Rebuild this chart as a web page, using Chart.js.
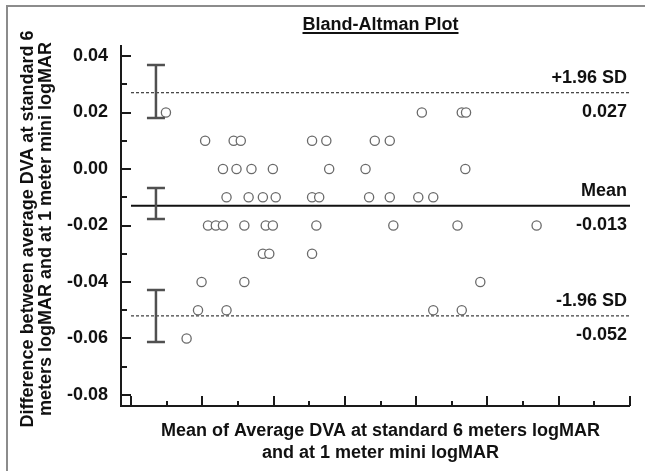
<!DOCTYPE html>
<html>
<head>
<meta charset="utf-8">
<script src="https://cdn.jsdelivr.net/npm/chart.js@4.4.0/dist/chart.umd.min.js"></script>
<style>
  html, body { margin: 0; padding: 0; background: #fff; }
</style>
</head>
<body>
<canvas id="baChart" width="645" height="471"></canvas>
<script>
// Mean of the two measurements (x) and their difference (y), one entry per subject
const meanValues = [
    0.049, 0.408, 0.464, 0.470,
    0.104, 0.144, 0.154, 0.254, 0.274, 0.342, 0.363,
    0.129, 0.148, 0.169, 0.199, 0.278, 0.329, 0.469,
    0.134, 0.165, 0.185, 0.203, 0.254, 0.264, 0.334, 0.363, 0.403, 0.424,
    0.108, 0.119, 0.129, 0.159, 0.189, 0.199, 0.260, 0.368, 0.458, 0.569,
    0.185, 0.194, 0.254,
    0.099, 0.159, 0.490,
    0.094, 0.134, 0.424, 0.464,
    0.078
];
const diffValues = [
    0.02, 0.02, 0.02, 0.02,
    0.01, 0.01, 0.01, 0.01, 0.01, 0.01, 0.01,
    0.00, 0.00, 0.00, 0.00, 0.00, 0.00, 0.00,
    -0.01, -0.01, -0.01, -0.01, -0.01, -0.01, -0.01, -0.01, -0.01, -0.01,
    -0.02, -0.02, -0.02, -0.02, -0.02, -0.02, -0.02, -0.02, -0.02, -0.02,
    -0.03, -0.03, -0.03,
    -0.04, -0.04, -0.04,
    -0.05, -0.05, -0.05, -0.05,
    -0.06
];

// Bias and limits of agreement, with their confidence intervals
const meanDiff = -0.013;
const upperLimit = 0.027;
const lowerLimit = -0.052;
const ciPosition = 0.035;
const meanCI = [-0.0177, -0.0067];
const upperCI = [0.0181, 0.0368];
const lowerCI = [-0.0612, -0.0428];

// Axis ticks (x axis has no labels in the original)
const yTickValues = [0.04, 0.02, 0.00, -0.02, -0.04, -0.06, -0.08];
const xTickValues = [0, 0.1, 0.2, 0.3, 0.4, 0.5, 0.6, 0.7];

const FONT = '"Liberation Sans", Arial, Helvetica, sans-serif';

const points = meanValues.map((m, i) => ({ x: m, y: diffValues[i] }));

function hLine(value) {
    return [{ x: xTickValues[0], y: value }, { x: xTickValues[xTickValues.length - 1], y: value }];
}

// draws frame, axes with inward ticks, CI bars and all the text
const baDecor = {
    id: 'baDecor',
    afterDatasetsDraw(chart) {
        const { ctx, scales: { x, y } } = chart;
        ctx.save();
        ctx.strokeStyle = '#505050';
        ctx.lineWidth = 2.5;
        const cx = x.getPixelForValue(ciPosition);
        [meanCI, upperCI, lowerCI].forEach(ci => {
            const y0 = y.getPixelForValue(ci[0]);
            const y1 = y.getPixelForValue(ci[1]);
            ctx.beginPath();
            ctx.moveTo(cx, y0); ctx.lineTo(cx, y1);
            ctx.moveTo(cx - 9, y0); ctx.lineTo(cx + 9, y0);
            ctx.moveTo(cx - 9, y1); ctx.lineTo(cx + 9, y1);
            ctx.stroke();
        });
        ctx.restore();
    },
    afterDraw(chart) {
        const { ctx, chartArea: a, scales: { x, y } } = chart;
        ctx.save();

        // partial frame (top + left only)
        ctx.strokeStyle = '#8c8c8c';
        ctx.lineWidth = 2;
        ctx.beginPath();
        ctx.moveTo(7, 471); ctx.lineTo(7, 6); ctx.lineTo(645, 6);
        ctx.stroke();

        // axes
        ctx.strokeStyle = '#1a1a1a';
        ctx.lineWidth = 2;
        ctx.beginPath();
        ctx.moveTo(a.left, a.top); ctx.lineTo(a.left, a.bottom); ctx.lineTo(a.right, a.bottom);
        ctx.stroke();

        ctx.beginPath();
        yTickValues.forEach((v, i) => {
            const py = Math.round(y.getPixelForValue(v));
            ctx.moveTo(a.left, py); ctx.lineTo(a.left + 10, py);
            if (i < yTickValues.length - 1) {
                const pm = Math.round(y.getPixelForValue((v + yTickValues[i + 1]) / 2));
                ctx.moveTo(a.left, pm); ctx.lineTo(a.left + 6, pm);
            }
        });
        xTickValues.forEach((v, i) => {
            const px = Math.round(x.getPixelForValue(v));
            ctx.moveTo(px, a.bottom); ctx.lineTo(px, a.bottom - 10);
            if (i < xTickValues.length - 1) {
                const pm = Math.round(x.getPixelForValue((v + xTickValues[i + 1]) / 2));
                ctx.moveTo(pm, a.bottom); ctx.lineTo(pm, a.bottom - 5);
            }
        });
        ctx.stroke();

        ctx.fillStyle = '#111';
        ctx.font = 'bold 18px ' + FONT;
        const midX = x.getPixelForValue((xTickValues[0] + xTickValues[xTickValues.length - 1]) / 2);

        // title, underlined
        ctx.textAlign = 'center';
        ctx.textBaseline = 'alphabetic';
        const title = 'Bland-Altman Plot';
        ctx.fillText(title, midX, 30);
        const tw = ctx.measureText(title).width;
        ctx.fillRect(midX - tw / 2, 32, tw, 2);

        // x axis title
        ctx.fillText('Mean of Average DVA at standard 6 meters logMAR', midX, 436);
        ctx.fillText('and at 1 meter mini logMAR', midX, 458);

        // y axis title
        ctx.save();
        ctx.translate(0, 229);
        ctx.rotate(-Math.PI / 2);
        ctx.fillText('Difference between average DVA at standard 6', 0, 33);
        ctx.fillText('meters logMAR and at 1 meter mini logMAR', 0, 51);
        ctx.restore();

        // reference line labels
        ctx.textAlign = 'right';
        const lx = a.right - 3;
        [[upperLimit, '+1.96 SD'], [meanDiff, 'Mean'], [lowerLimit, '-1.96 SD']].forEach(([v, name]) => {
            const py = y.getPixelForValue(v);
            ctx.fillText(name, lx, py - 10);
            ctx.fillText(v.toFixed(3), lx, py + 24);
        });

        ctx.restore();
    }
};

new Chart(document.getElementById('baChart'), {
    type: 'scatter',
    data: {
        datasets: [
            {
                data: points,
                order: 0,
                pointRadius: 4.6,
                pointBorderWidth: 1.3,
                pointBorderColor: '#6a6a6a',
                pointBackgroundColor: '#fff'
            },
            {
                data: hLine(meanDiff),
                order: 1,
                showLine: true,
                borderColor: '#111',
                borderWidth: 2,
                pointRadius: 0
            },
            {
                data: hLine(upperLimit),
                order: 1,
                showLine: true,
                borderColor: '#111',
                borderWidth: 1,
                borderDash: [3, 2],
                pointRadius: 0
            },
            {
                data: hLine(lowerLimit),
                order: 1,
                showLine: true,
                borderColor: '#111',
                borderWidth: 1,
                borderDash: [3, 2],
                pointRadius: 0
            }
        ]
    },
    options: {
        responsive: false,
        animation: false,
        layout: { padding: { left: 0, top: 45, right: 15, bottom: 0 } },
        plugins: {
            legend: { display: false },
            tooltip: { enabled: false }
        },
        scales: {
            x: {
                type: 'linear',
                min: -0.01403,
                max: 0.7,
                grid: { display: false, drawTicks: false },
                border: { display: false },
                ticks: { display: false },
                afterFit: s => { s.height = 65; }
            },
            y: {
                min: -0.0839,
                max: 0.0439,
                grid: { display: false, drawTicks: false },
                border: { display: false },
                ticks: {
                    color: '#111',
                    padding: 13,
                    font: { family: FONT, size: 18, weight: 'bold' },
                    callback: v => v.toFixed(2)
                },
                afterBuildTicks: s => { s.ticks = yTickValues.map(v => ({ value: v })); },
                afterFit: s => { s.width = 121; }
            }
        }
    },
    plugins: [baDecor]
});
</script>
</body>
</html>
